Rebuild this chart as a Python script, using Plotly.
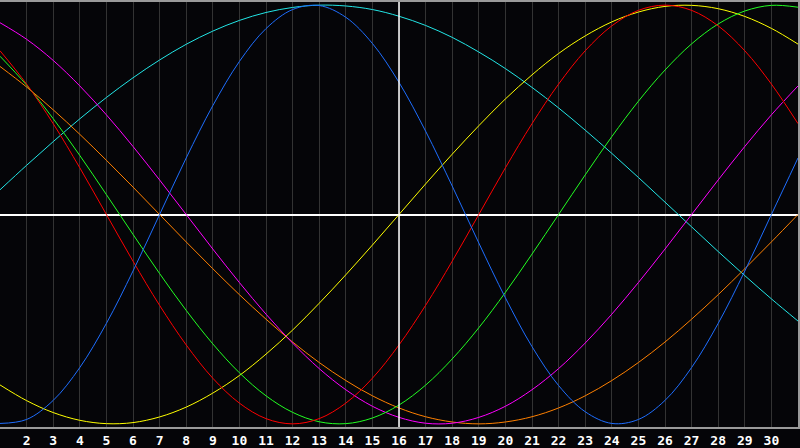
import plotly.graph_objects as go

# days shown along the bottom (1 .. 31, labels 2 .. 30)
days = list(range(1, 32))
tick_days = list(range(2, 31))
today = 16

# cycle values in percent, one per day
physical = [-99.8, -97.9, -88.8, -73.1, -52.0, -27.0, 0, 27.0, 52.0, 73.1, 88.8, 97.9, 99.8,
            94.2, 81.7, 63.1, 39.8, 13.6, -13.6, -39.8, -63.1, -81.7, -94.2, -99.8, -97.9,
            -88.8, -73.1, -52.0, -27.0, 0, 27.0]
emotional = [78.2, 62.3, 43.4, 22.3, 0, -22.3, -43.4, -62.3, -78.2, -90.1, -97.5, -100, -97.5,
             -90.1, -78.2, -62.3, -43.4, -22.3, 0, 22.3, 43.4, 62.3, 78.2, 90.1, 97.5, 100,
             97.5, 90.1, 78.2, 62.3, 43.4]
intellectual = [75.6, 61.8, 45.8, 28.2, 9.5, -9.5, -28.2, -45.8, -61.8, -75.6, -86.6, -94.5,
                -99.0, -99.9, -97.2, -91.0, -81.5, -69.0, -54.1, -37.2, -18.9, 0, 18.9, 37.2,
                54.1, 69.0, 81.5, 91.0, 97.2, 99.9, 99.0]
aesthetic = [-81.4, -88.9, -94.6, -98.3, -99.9, -99.4, -96.7, -92.0, -85.3, -76.9, -66.7, -55.2,
             -42.4, -28.8, -14.6, 0, 14.6, 28.8, 42.4, 55.2, 66.7, 76.9, 85.3, 92.0, 96.7, 99.4,
             99.9, 98.3, 94.6, 88.9, 81.4]
intuition = [91.6, 83.7, 73.6, 61.4, 47.6, 32.5, 16.5, 0, -16.5, -32.5, -47.6, -61.4, -73.6,
             -83.7, -91.6, -96.9, -99.7, -99.7, -96.9, -91.6, -83.7, -73.6, -61.4, -47.6, -32.5,
             -16.5, 0, 16.5, 32.5, 47.6, 61.4]
awareness = [70.7, 60.9, 50.0, 38.3, 25.9, 13.1, 0, -13.1, -25.9, -38.3, -50.0, -60.9, -70.7,
             -79.3, -86.6, -92.4, -96.6, -99.1, -100, -99.1, -96.6, -92.4, -86.6, -79.3, -70.7,
             -60.9, -50.0, -38.3, -25.9, -13.1, 0]
spiritual = [11.8, 23.5, 34.8, 45.7, 55.9, 65.3, 73.8, 81.3, 87.6, 92.7, 96.5, 98.9, 100.0,
             99.6, 97.9, 94.7, 90.3, 84.6, 77.6, 69.7, 60.7, 50.9, 40.3, 29.2, 17.7, 5.9, -5.9,
             -17.7, -29.2, -40.3, -50.9]

series = [
    ("Spiritual", spiritual, "#22e6e6"),
    ("Awareness", awareness, "#ff8000"),
    ("Intuition", intuition, "#ff00ff"),
    ("Aesthetic", aesthetic, "#ffff00"),
    ("Intellectual", intellectual, "#22ff22"),
    ("Emotional", emotional, "#ff0000"),
    ("Physical", physical, "#1e6eff"),
]

fig = go.Figure()
for name, vals, col in series:
    fig.add_trace(go.Scatter(
        x=days, y=vals, name=name, mode="lines",
        line=dict(color=col, width=1, shape="spline", smoothing=1),
    ))

fig.add_vline(x=today, line_color="white", line_width=1.5)

fig.update_layout(
    width=800, height=448,
    margin=dict(l=0, r=0, t=0, b=20),
    paper_bgcolor="#050508",
    plot_bgcolor="#050508",
    showlegend=False,
    xaxis=dict(
        range=[1, 31],
        tickvals=tick_days,
        ticktext=[str(d) for d in tick_days],
        showgrid=True, gridcolor="#333333", gridwidth=1,
        zeroline=False,
        showline=True, linecolor="#9a9a9a", linewidth=2, mirror=True,
        ticks="",
        tickfont=dict(family="DejaVu Sans Mono", size=13, color="white", weight="bold"),
    ),
    yaxis=dict(
        range=[-101.5, 101.5],
        showgrid=False,
        showticklabels=False,
        zeroline=True, zerolinecolor="white", zerolinewidth=1.5,
        showline=True, linecolor="#9a9a9a", linewidth=2, mirror=True,
    ),
)

fig.write_html(
    "out.html",
    config={"displayModeBar": False},
    post_script="document.body.style.margin='0';document.body.style.background='#050508';",
)
